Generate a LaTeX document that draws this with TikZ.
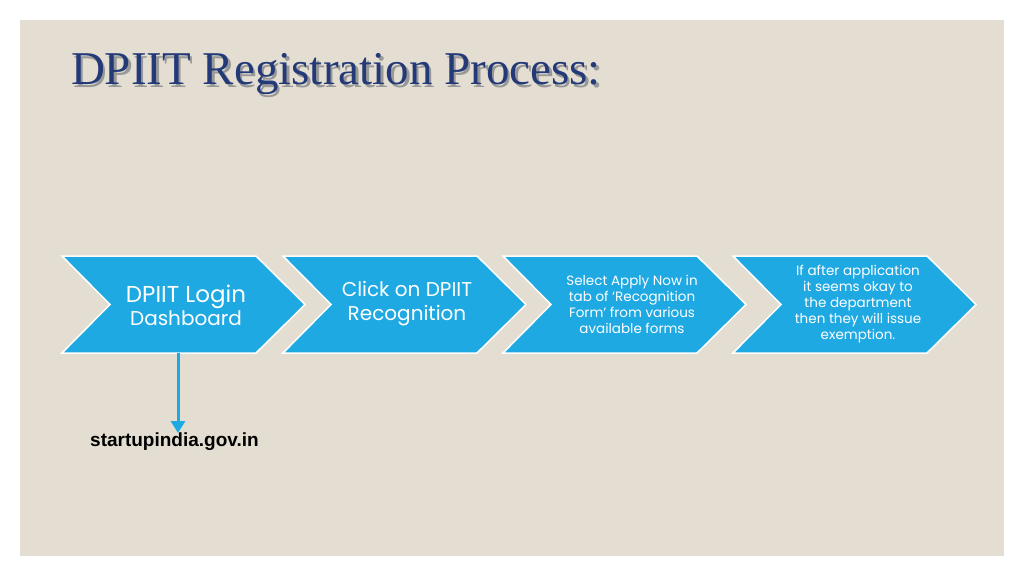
\documentclass[tikz,border=0pt]{standalone}
\usetikzlibrary{arrows.meta}
\usepackage{fontspec}
\setmainfont{Poppins}
\newfontfamily\titlefont{Liberation Serif}
\newfontfamily\linkfont{Liberation Sans}
\definecolor{bg}{HTML}{E3DED1}
\definecolor{chev}{HTML}{1FA9E3}
\definecolor{navy}{HTML}{243A78}
\begin{document}
\begin{tikzpicture}[x=1pt,y=-1pt,
  chevtext/.style={text=white,align=center,font=\fontsize{13.5}{16}\selectfont},
  chevshape/.style={fill=chev,draw=white,line width=1.5pt,line join=miter}]
\useasboundingbox (0,0) rectangle (1024,576);
\fill[white] (0,0) rectangle (1024,576);
\fill[bg] (20,20) rectangle (1004,556);
\node[anchor=west,text=navy!40!black,opacity=0.35,font=\titlefont\fontsize{47}{50}\selectfont] at (70,77) {DPIIT Registration Process:};
\node (title)[anchor=west,text=navy,font=\titlefont\fontsize{47}{50}\selectfont] at (67.5,74) {DPIIT Registration Process:};
\foreach \x/\n in {62/1,283/2,503/3,733/4}{
  \draw[chevshape] (\x,256) -- (\x+194,256) -- (\x+243,304.5) -- (\x+194,353) -- (\x,353) -- (\x+48,304.5) -- cycle;
}
\node (c1)[chevtext,font=\fontsize{23}{27}\selectfont] at (186,305) {DPIIT Login\\[-4pt]{\fontsize{20}{23}\selectfont Dashboard}};
\node (c2)[chevtext,font=\fontsize{20}{24}\selectfont] at (407,304) {Click on DPIIT\\Recognition};
\node (c3)[chevtext] at (632,304) {Select Apply Now in\\tab of ‘Recognition\\Form’ from various\\available forms};
\node (c4)[chevtext] at (858,304) {If after application\\it seems okay to\\the department\\then they will issue\\exemption.};
\coordinate (s) at (178,353);
\node (link)[font=\linkfont\bfseries\fontsize{19}{22}\selectfont,anchor=west,inner sep=0pt] at (90,442) {startupindia.gov.in};
\draw[chev,line width=3pt,-{Triangle[length=12pt,width=14pt]}] (s) -- (178,433);
\end{tikzpicture}
\end{document}
